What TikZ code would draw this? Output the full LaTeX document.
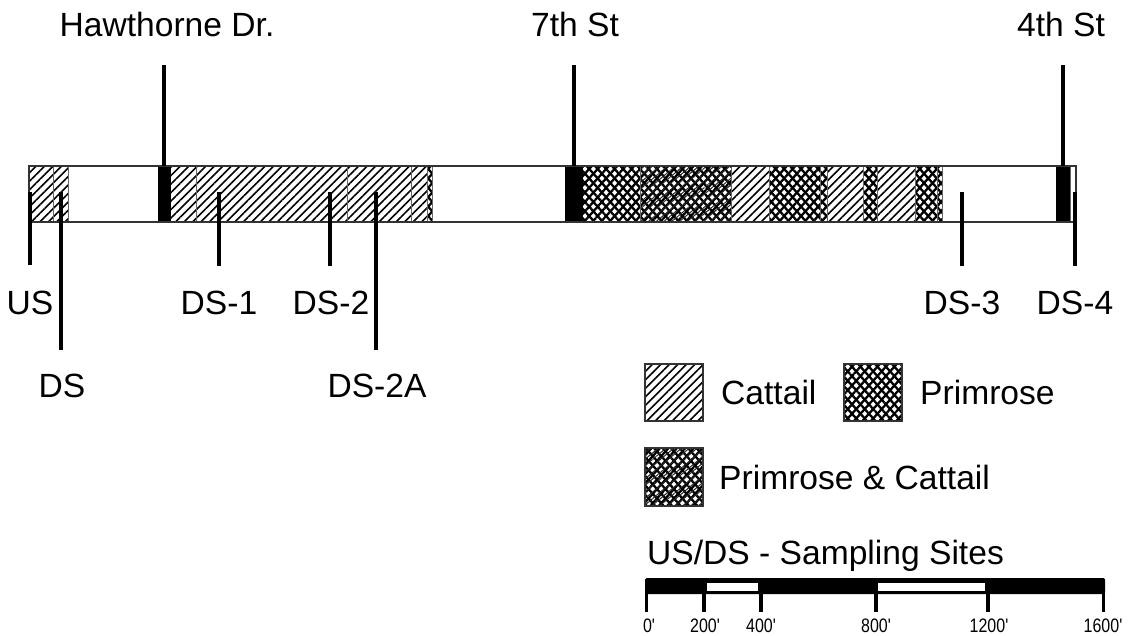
\documentclass[tikz,border=0pt]{standalone}
\usepackage{fontspec}
\setmainfont{Liberation Sans}
\newfontfamily\barfont{Liberation Sans}[Ligatures=TeXOff]
\usetikzlibrary{patterns.meta}
\tikzset{
  lbl/.style={font=\fontsize{33.6}{40}\selectfont, inner sep=0pt, anchor=base},
  lblw/.style={lbl, anchor=base west},
  small/.style={font=\barfont\fontsize{19.5}{22}\selectfont, inner sep=0pt, anchor=base},
  street/.style={line width=4pt},
  site/.style={line width=4pt},
  cattail/.style={pattern={Lines[angle=45,distance=6pt,line width=1.6pt]}},
  primA/.style={pattern={Lines[angle=48,distance=6.3pt,line width=2.3pt]}},
  primB/.style={pattern={Lines[angle=-48,distance=6.3pt,line width=2.3pt]}},
  pcC/.style={pattern={Lines[angle=40,distance=5pt,line width=1pt]}, pattern color=black!85},
  divider/.style={draw=black!60, line width=0.7pt},
  outline/.style={draw=black!80, line width=1.2pt},
  tick/.style={line width=3.5pt},
}
\newcommand\catrect[4]{\fill[cattail] (#1,#2) rectangle (#3,#4);}
\newcommand\primrect[4]{\fill[primA] (#1,#2) rectangle (#3,#4);\fill[primB] (#1,#2) rectangle (#3,#4);}
\newcommand\pcrect[4]{\primrect{#1}{#2}{#3}{#4}\fill[pcC] (#1,#2) rectangle (#3,#4);}
\newcommand\catseg[2]{\catrect{#1}{166}{#2}{222}}
\newcommand\primseg[2]{\primrect{#1}{166}{#2}{222}}
\newcommand\pcseg[2]{\pcrect{#1}{166}{#2}{222}}
\newcommand\blkseg[2]{\fill[black] (#1,166) rectangle (#2,222);}
\newcommand\divline[1]{\draw[divider] (#1,166) -- (#1,222);}
\begin{document}
\begin{tikzpicture}[x=1pt,y=-1pt]
\useasboundingbox (0,0) rectangle (1136,635);
\fill[white] (0,0) rectangle (1136,635);

% ---- strip segments
\catseg{29}{53}
\catseg{53}{68}
\blkseg{158}{171}
\catseg{171}{196}
\catseg{196}{347}
\catseg{347}{411}
\catseg{411}{427}
\primseg{427}{432}
\blkseg{565}{583}
\primseg{583}{640}
\pcseg{640}{731}
\catseg{731}{769}
\primseg{769}{820}
\primseg{820}{827}
\catseg{827}{863}
\primseg{863}{877}
\catseg{877}{915}
\primseg{915}{937}
\primseg{937}{942}
\blkseg{1056}{1070}
\foreach \d in {53,68,196,347,411,427,432,640,731,769,820,827,863,877,915,937,942,1070}{\divline{\d}}
\draw[outline] (29,166) rectangle (1076,222);

% ---- streets
\node[lbl] (haw) at (167,36) {Hawthorne Dr.};
\node[lbl] (sev) at (575,36) {7th St};
\node[lbl] (fou) at (1061,36) {4th St};
\coordinate (hawT) at (164,65);  \coordinate (hawB) at (164,166);
\coordinate (sevT) at (574,65);  \coordinate (sevB) at (574,166);
\coordinate (fouT) at (1063,65); \coordinate (fouB) at (1063,166);
\draw[street] (hawT) -- (hawB);
\draw[street] (sevT) -- (sevB);
\draw[street] (fouT) -- (fouB);

% ---- sampling sites
\node[lbl] (us)  at (30,314)  {US};
\node[lbl] (ds1) at (219,314) {DS-1};
\node[lbl] (ds2) at (331,314) {DS-2};
\node[lbl] (ds3) at (962,314) {DS-3};
\node[lbl] (ds4) at (1075,314) {DS-4};
\node[lbl] (ds)  at (62,397)  {DS};
\node[lbl] (ds2a) at (377,397) {DS-2A};
\coordinate (usT) at (30,192);   \coordinate (usB) at (30,265);
\coordinate (dsT) at (61,192);   \coordinate (dsB) at (61,350);
\coordinate (ds1T) at (219,192); \coordinate (ds1B) at (219,266);
\coordinate (ds2T) at (330,192); \coordinate (ds2B) at (330,266);
\coordinate (ds2aT) at (376,192); \coordinate (ds2aB) at (376,350);
\coordinate (ds3T) at (962,192); \coordinate (ds3B) at (962,266);
\coordinate (ds4T) at (1075,192); \coordinate (ds4B) at (1075,266);
\foreach \s in {us,ds,ds1,ds2,ds2a,ds3,ds4}{\draw[site] (\s T) -- (\s B);}

% ---- legend
\catrect{645}{364}{703}{421}
\draw[outline] (645,364) rectangle (703,421);
\node[lblw] (lc) at (721,404) {Cattail};
\primrect{844}{364}{902}{421}
\draw[outline] (844,364) rectangle (902,421);
\node[lblw] (lp) at (920,404) {Primrose};
\pcrect{645}{448}{703}{506}
\draw[outline] (645,448) rectangle (703,506);
\node[lblw] (lpc) at (719,489) {Primrose \& Cattail};
\node[lblw] (lus) at (647,564) {US/DS - Sampling Sites};

% ---- scale bar
\fill[black, rounded corners=1.5pt] (645,578) rectangle (1105,594);
\fill[white] (707,583) rectangle (758,591);
\fill[white] (878,583) rectangle (985,591);
\foreach \t in {646.5,704,761,876,988,1103.5}{\draw[tick] (\t,590) -- (\t,612);}
\node[small] (s0) at (649,632) {\scalebox{0.82}[1]{0'}};
\node[small] (s1) at (705,632) {\scalebox{0.82}[1]{200'}};
\node[small] (s2) at (761,632) {\scalebox{0.82}[1]{400'}};
\node[small] (s3) at (876,632) {\scalebox{0.82}[1]{800'}};
\node[small] (s4) at (989,632) {\scalebox{0.82}[1]{1200'}};
\node[small] (s5) at (1103,632) {\scalebox{0.82}[1]{1600'}};
\end{tikzpicture}
\end{document}
